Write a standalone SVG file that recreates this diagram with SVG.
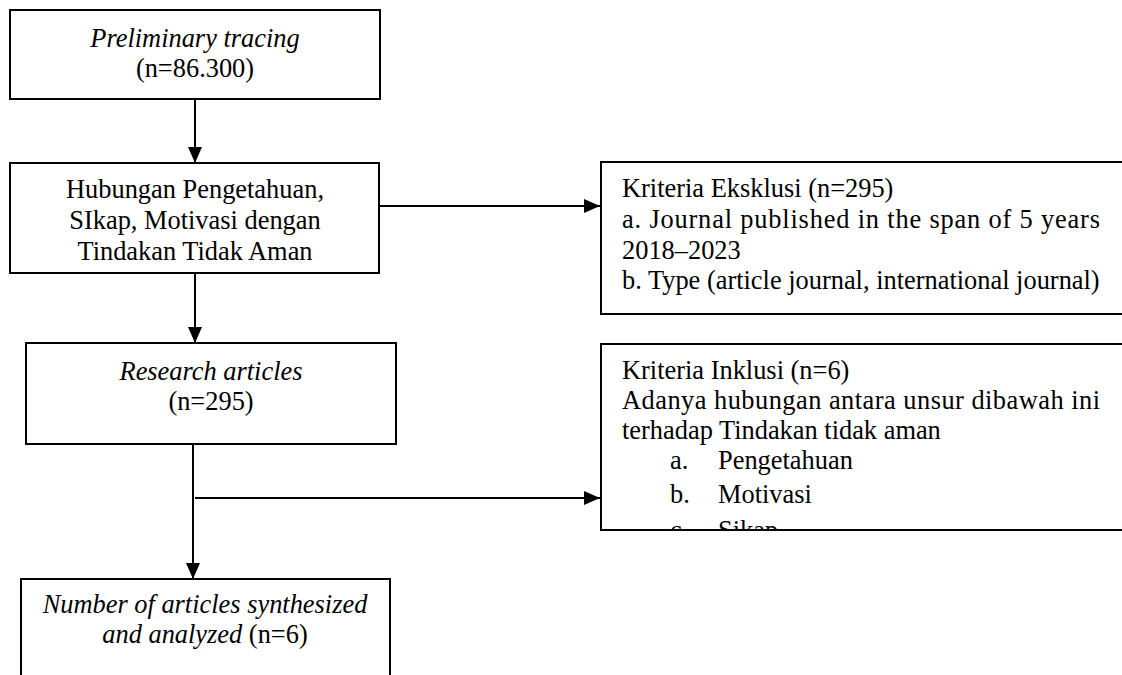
<svg xmlns="http://www.w3.org/2000/svg" width="1122" height="675" viewBox="0 0 1122 675">
<style>
.box{fill:#fff;stroke:#000;stroke-width:2}
.t{font-family:"Liberation Serif","Times New Roman",serif;font-size:26.4px;fill:#000}
.c{text-anchor:middle}
.i{font-style:italic}
.ln{fill:none;stroke:#000;stroke-width:2}
</style>
<defs>
<marker id="ah" markerUnits="userSpaceOnUse" markerWidth="16" markerHeight="16" viewBox="0 0 16 16" refX="16" refY="8" orient="auto">
<path d="M0,1 L16,8 L0,15 Z" fill="#000"/>
</marker>
<clipPath id="clipInc"><rect x="601" y="344" width="530" height="185"/></clipPath>
</defs>
<rect width="1122" height="675" fill="#fff"/>
<g id="connectors">
<line class="ln" x1="195" y1="99" x2="195" y2="163" marker-end="url(#ah)"/>
<line class="ln" x1="379" y1="206" x2="600" y2="206" marker-end="url(#ah)"/>
<line class="ln" x1="195" y1="273" x2="195" y2="343" marker-end="url(#ah)"/>
<line class="ln" x1="193" y1="444" x2="193" y2="579" marker-end="url(#ah)"/>
<line class="ln" x1="195" y1="498" x2="600" y2="498" marker-end="url(#ah)"/>
</g>
<g id="n1">
<rect class="box" x="10" y="10" width="370" height="89"/>
<text class="t c i" x="195" y="47">Preliminary tracing</text>
<text class="t c" x="195" y="77">(n=86.300)</text>
</g>
<g id="n2">
<rect class="box" x="10" y="163" width="369" height="110"/>
<text class="t c" x="195" y="198">Hubungan Pengetahuan,</text>
<text class="t c" x="195" y="229">SIkap, Motivasi dengan</text>
<text class="t c" x="195" y="260">Tindakan Tidak Aman</text>
</g>
<g id="n3">
<rect class="box" x="601" y="162" width="530" height="152"/>
<text class="t" x="622" y="197">Kriteria Eksklusi (n=295)</text>
<text class="t" x="622" y="228" textLength="478" lengthAdjust="spacing">a. Journal published in the span of 5 years</text>
<text class="t" x="622" y="259">2018–2023</text>
<text class="t" x="622" y="289">b. Type (article journal, international journal)</text>
</g>
<g id="n4">
<rect class="box" x="26" y="343" width="370" height="101"/>
<text class="t c i" x="211" y="380">Research articles</text>
<text class="t c" x="211" y="410">(n=295)</text>
</g>
<g id="n5">
<rect class="box" x="601" y="344" width="530" height="186"/>
<g clip-path="url(#clipInc)">
<text class="t" x="622" y="379">Kriteria Inklusi (n=6)</text>
<text class="t" x="622" y="409" textLength="478" lengthAdjust="spacing">Adanya hubungan antara unsur dibawah ini</text>
<text class="t" x="622" y="439">terhadap Tindakan tidak aman</text>
<text class="t" x="670" y="469">a.</text>
<text class="t" x="718" y="469">Pengetahuan</text>
<text class="t" x="670" y="503">b.</text>
<text class="t" x="718" y="503">Motivasi</text>
<text class="t" x="670" y="539">c.</text>
<text class="t" x="718" y="539">Sikap</text>
</g>
</g>
<g id="n6">
<rect class="box" x="21" y="579" width="369" height="120"/>
<text class="t c i" x="205" y="613">Number of articles synthesized</text>
<text class="t c" x="205" y="643"><tspan class="i">and analyzed</tspan> (n=6)</text>
</g>
</svg>
